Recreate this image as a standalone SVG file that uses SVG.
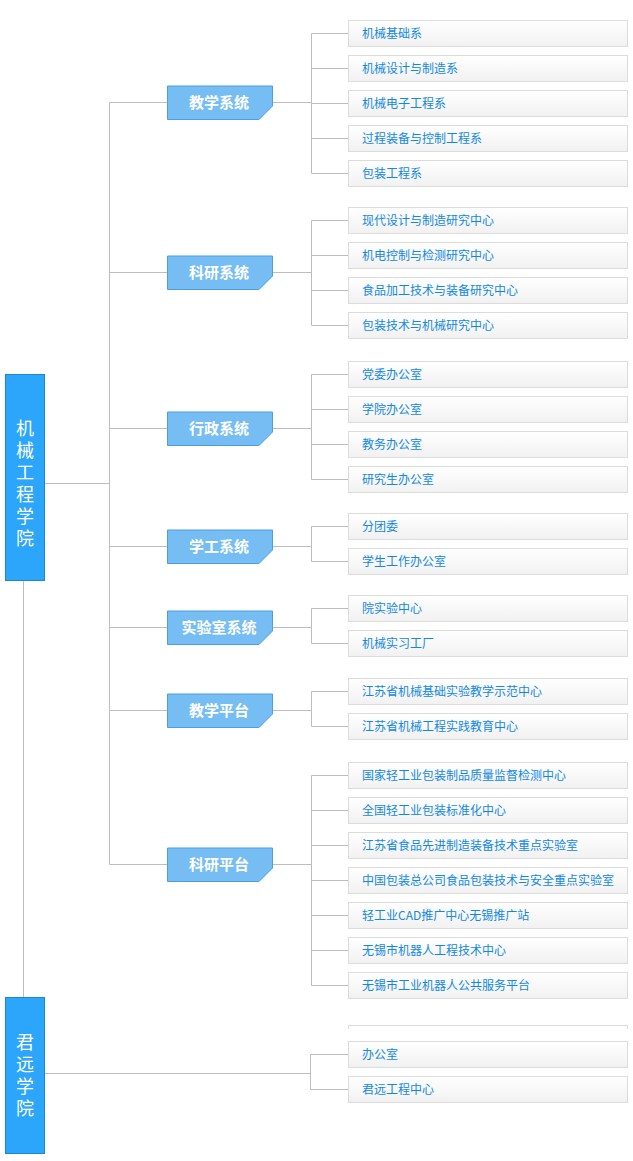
<svg xmlns="http://www.w3.org/2000/svg" width="633" height="1161" viewBox="0 0 633 1161">
<defs>
<linearGradient id="lg" x1="0" y1="0" x2="0" y2="1">
<stop offset="0" stop-color="#ffffff"/>
<stop offset="1" stop-color="#f1f1f1"/>
</linearGradient>
<style>
.conn{fill:none;stroke:#bdbdbd;stroke-width:1}
.root rect{fill:#2ba6fa;stroke:#1a86d6;stroke-width:1}
.root text{fill:#ffffff;font-family:"Noto Sans CJK SC","Liberation Sans",sans-serif;font-size:18px;writing-mode:vertical-rl;letter-spacing:4px}
.cat path{fill:#76bdf3;stroke:#4a9ee2;stroke-width:1}
.cat text{fill:#ffffff;font-family:"Noto Sans CJK SC","Liberation Sans",sans-serif;font-size:15px;font-weight:bold;text-anchor:middle}
.leaf rect{fill:url(#lg);stroke:#dcdcdc;stroke-width:1}
.leaf text{fill:#1188e4;font-family:"Noto Sans CJK SC","Liberation Sans",sans-serif;font-size:12px}
</style>
</defs>
<rect width="633" height="1161" fill="#ffffff"/>
<g id="connectors" class="conn">
<path d="M45 483.5H109.5M109.5 102.5V864.5M109.5 102.5H167M109.5 272.5H167M109.5 428.5H167M109.5 546.5H167M109.5 627.5H167M109.5 710.5H167M109.5 864.5H167"/>
<path d="M23.5 580V997"/>
<path d="M272 102.5H311.5M311.5 33.5V173.5M311.5 33.5H348M311.5 68.5H348M311.5 103.5H348M311.5 138.5H348M311.5 173.5H348"/>
<path d="M272 272.5H311.5M311.5 220.5V325.5M311.5 220.5H348M311.5 255.5H348M311.5 290.5H348M311.5 325.5H348"/>
<path d="M272 428.5H311.5M311.5 374.5V479.5M311.5 374.5H348M311.5 409.5H348M311.5 444.5H348M311.5 479.5H348"/>
<path d="M272 546.5H311.5M311.5 526.5V561.5M311.5 526.5H348M311.5 561.5H348"/>
<path d="M272 627.5H311.5M311.5 608.5V643.5M311.5 608.5H348M311.5 643.5H348"/>
<path d="M272 710.5H311.5M311.5 691.5V726.5M311.5 691.5H348M311.5 726.5H348"/>
<path d="M272 864.5H311.5M311.5 775.5V985.5M311.5 775.5H348M311.5 810.5H348M311.5 845.5H348M311.5 880.5H348M311.5 915.5H348M311.5 950.5H348M311.5 985.5H348"/>
<path d="M45 1073.5H310.5M310.5 1054.5V1089.5M310.5 1054.5H348M310.5 1089.5H348"/>
</g>
<g id="root1" class="root">
<rect x="5.5" y="374.5" width="39" height="206"/>
<text x="25" y="419">机械工程学院</text>
</g>
<g id="root2" class="root">
<rect x="5.5" y="997.5" width="39" height="156"/>
<text x="25" y="1033">君远学院</text>
</g>
<g id="cat1" class="cat"><path d="M167.5 86H272.5V106L259 119.5H167.5Z"/><text x="219" y="108">教学系统</text></g>
<g id="cat2" class="cat"><path d="M167.5 256H272.5V276L259 289.5H167.5Z"/><text x="219" y="278">科研系统</text></g>
<g id="cat3" class="cat"><path d="M167.5 412H272.5V432L259 445.5H167.5Z"/><text x="219" y="434">行政系统</text></g>
<g id="cat4" class="cat"><path d="M167.5 530H272.5V550L259 563.5H167.5Z"/><text x="219" y="552">学工系统</text></g>
<g id="cat5" class="cat"><path d="M167.5 611H272.5V631L259 644.5H167.5Z"/><text x="219" y="633">实验室系统</text></g>
<g id="cat6" class="cat"><path d="M167.5 694H272.5V714L259 727.5H167.5Z"/><text x="219" y="716">教学平台</text></g>
<g id="cat7" class="cat"><path d="M167.5 848H272.5V868L259 881.5H167.5Z"/><text x="219" y="870">科研平台</text></g>
<g id="l1" class="leaf"><rect x="348.5" y="20.5" width="279" height="26"/><text x="362" y="38">机械基础系</text></g>
<g id="l2" class="leaf"><rect x="348.5" y="55.5" width="279" height="26"/><text x="362" y="73">机械设计与制造系</text></g>
<g id="l3" class="leaf"><rect x="348.5" y="90.5" width="279" height="26"/><text x="362" y="108">机械电子工程系</text></g>
<g id="l4" class="leaf"><rect x="348.5" y="125.5" width="279" height="26"/><text x="362" y="143">过程装备与控制工程系</text></g>
<g id="l5" class="leaf"><rect x="348.5" y="160.5" width="279" height="26"/><text x="362" y="178">包装工程系</text></g>
<g id="l6" class="leaf"><rect x="348.5" y="207.5" width="279" height="26"/><text x="362" y="225">现代设计与制造研究中心</text></g>
<g id="l7" class="leaf"><rect x="348.5" y="242.5" width="279" height="26"/><text x="362" y="260">机电控制与检测研究中心</text></g>
<g id="l8" class="leaf"><rect x="348.5" y="277.5" width="279" height="26"/><text x="362" y="295">食品加工技术与装备研究中心</text></g>
<g id="l9" class="leaf"><rect x="348.5" y="312.5" width="279" height="26"/><text x="362" y="330">包装技术与机械研究中心</text></g>
<g id="l10" class="leaf"><rect x="348.5" y="361.5" width="279" height="26"/><text x="362" y="379">党委办公室</text></g>
<g id="l11" class="leaf"><rect x="348.5" y="396.5" width="279" height="26"/><text x="362" y="414">学院办公室</text></g>
<g id="l12" class="leaf"><rect x="348.5" y="431.5" width="279" height="26"/><text x="362" y="449">教务办公室</text></g>
<g id="l13" class="leaf"><rect x="348.5" y="466.5" width="279" height="26"/><text x="362" y="484">研究生办公室</text></g>
<g id="l14" class="leaf"><rect x="348.5" y="513.5" width="279" height="26"/><text x="362" y="531">分团委</text></g>
<g id="l15" class="leaf"><rect x="348.5" y="548.5" width="279" height="26"/><text x="362" y="566">学生工作办公室</text></g>
<g id="l16" class="leaf"><rect x="348.5" y="595.5" width="279" height="26"/><text x="362" y="613">院实验中心</text></g>
<g id="l17" class="leaf"><rect x="348.5" y="630.5" width="279" height="26"/><text x="362" y="648">机械实习工厂</text></g>
<g id="l18" class="leaf"><rect x="348.5" y="678.5" width="279" height="26"/><text x="362" y="696">江苏省机械基础实验教学示范中心</text></g>
<g id="l19" class="leaf"><rect x="348.5" y="713.5" width="279" height="26"/><text x="362" y="731">江苏省机械工程实践教育中心</text></g>
<g id="l20" class="leaf"><rect x="348.5" y="762.5" width="279" height="26"/><text x="362" y="780">国家轻工业包装制品质量监督检测中心</text></g>
<g id="l21" class="leaf"><rect x="348.5" y="797.5" width="279" height="26"/><text x="362" y="815">全国轻工业包装标准化中心</text></g>
<g id="l22" class="leaf"><rect x="348.5" y="832.5" width="279" height="26"/><text x="362" y="850">江苏省食品先进制造装备技术重点实验室</text></g>
<g id="l23" class="leaf"><rect x="348.5" y="867.5" width="279" height="26"/><text x="362" y="885">中国包装总公司食品包装技术与安全重点实验室</text></g>
<g id="l24" class="leaf"><rect x="348.5" y="902.5" width="279" height="26"/><text x="362" y="920">轻工业CAD推广中心无锡推广站</text></g>
<g id="l25" class="leaf"><rect x="348.5" y="937.5" width="279" height="26"/><text x="362" y="955">无锡市机器人工程技术中心</text></g>
<g id="l26" class="leaf"><rect x="348.5" y="972.5" width="279" height="26"/><text x="362" y="990">无锡市工业机器人公共服务平台</text></g>
<g id="l27"><path d="M348.5 1029V1025.5H627.5V1029" fill="none" stroke="#dcdcdc"/></g>
<g id="l28" class="leaf"><rect x="348.5" y="1041.5" width="279" height="26"/><text x="362" y="1059">办公室</text></g>
<g id="l29" class="leaf"><rect x="348.5" y="1076.5" width="279" height="26"/><text x="362" y="1094">君远工程中心</text></g>
</svg>
